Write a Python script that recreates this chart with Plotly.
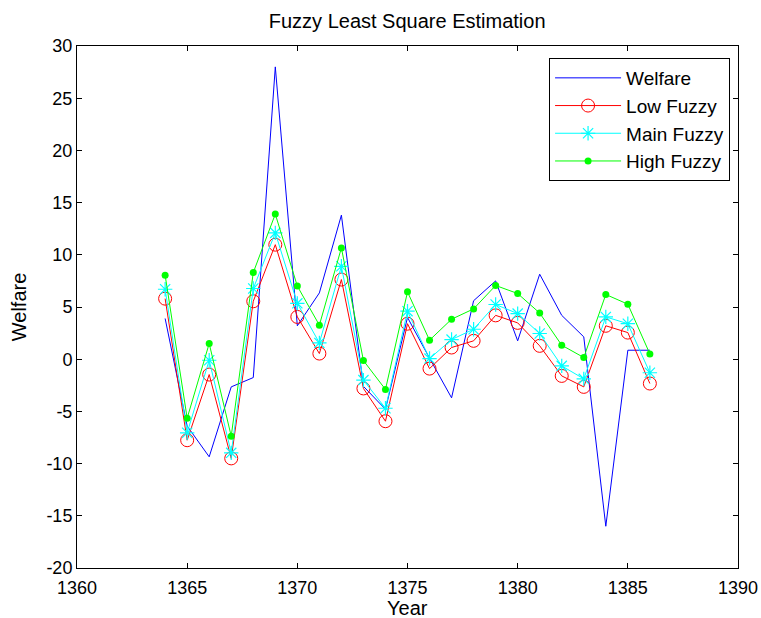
import plotly.graph_objects as go

years = list(range(1364, 1387))
welfare = [3.9, -6.4, -9.35, -2.65, -1.76, 28.0, 3.2, 6.35, 13.8, -2.6, -4.8, 4.0,
           0.1, -3.7, 5.6, 7.5, 1.76, 8.14, 4.2, 2.14, -16.0, 0.86, 0.86]
low_fuzzy = [5.8, -7.76, -1.47, -9.5, 5.55, 10.97, 4.05, 0.54, 7.63, -2.8, -5.94, 3.4,
             -0.9, 1.12, 1.76, 4.2, 3.48, 1.28, -1.6, -2.65, 3.2, 2.55, -2.33]
main_fuzzy = [6.7, -7.05, -0.1, -8.97, 6.77, 12.1, 5.35, 1.56, 8.9, -2.0, -4.7, 4.6,
              0.06, 1.88, 2.87, 5.24, 4.37, 2.46, -0.64, -1.88, 4.05, 3.4, -1.3]
high_fuzzy = [8.05, -5.65, 1.5, -7.37, 8.3, 13.9, 7.0, 3.26, 10.66, -0.13, -2.9, 6.45,
              1.82, 3.83, 4.82, 7.06, 6.29, 4.42, 1.34, 0.16, 6.2, 5.27, 0.51]

x_ticks = [1360, 1365, 1370, 1375, 1380, 1385, 1390]
y_ticks = [30, 25, 20, 15, 10, 5, 0, -5, -10, -15, -20]

fig = go.Figure()
fig.add_trace(go.Scatter(x=years, y=welfare, name="Welfare", mode="lines",
                         line=dict(color="#0000FF", width=1)))
fig.add_trace(go.Scatter(x=years, y=low_fuzzy, name="Low Fuzzy", mode="lines+markers",
                         line=dict(color="#FF0000", width=1),
                         marker=dict(symbol="circle-open", size=13, color="#FF0000",
                                     line=dict(width=1, color="#FF0000"))))
fig.add_trace(go.Scatter(x=years, y=main_fuzzy, name="Main Fuzzy", mode="lines+markers",
                         line=dict(color="#00FFFF", width=1),
                         marker=dict(symbol="asterisk-open", size=12, color="#00FFFF",
                                     line=dict(width=1.2, color="#00FFFF"))))
fig.add_trace(go.Scatter(x=years, y=high_fuzzy, name="High Fuzzy", mode="lines+markers",
                         line=dict(color="#00FF00", width=1),
                         marker=dict(symbol="circle", size=7, color="#00FF00")))

axis_common = dict(showgrid=False, zeroline=False, showline=True, linecolor="black",
                   linewidth=1, mirror="ticks", ticks="inside", ticklen=5,
                   tickcolor="black", tickfont=dict(size=18, color="black"),
                   automargin=False, ticklabeloverflow="allow")

fig.update_layout(
    width=761, height=618,
    margin=dict(l=77, r=23, t=46, b=50),
    paper_bgcolor="white", plot_bgcolor="white",
    font=dict(family="Liberation Sans, Arial, sans-serif", color="black"),
    title=dict(text="Fuzzy Least Square Estimation", x=0.535, xanchor="center",
               y=0.966, yanchor="middle", font=dict(size=20, color="black")),
    xaxis=dict(range=[1360, 1390], tickvals=x_ticks, ticktext=[str(v) for v in x_ticks],
               ticklabelstandoff=3, **axis_common),
    yaxis=dict(range=[-20, 30], tickvals=y_ticks, ticktext=[str(v) for v in y_ticks],
               title=dict(text="Welfare", font=dict(size=20), standoff=14), **axis_common),
    showlegend=True,
    legend=dict(x=0.988, y=0.977, xanchor="right", yanchor="top",
                bgcolor="white", bordercolor="black", borderwidth=1,
                font=dict(size=19, color="black"), itemwidth=66,
                tracegroupgap=0),
    annotations=[dict(text="Year", xref="paper", yref="paper", x=0.5, y=-0.0766,
                      xanchor="center", yanchor="middle", showarrow=False,
                      font=dict(size=20, color="black"))],
)

fig.write_html("out.html", config={"displayModeBar": False},
               post_script="document.body.style.margin='0px';")
